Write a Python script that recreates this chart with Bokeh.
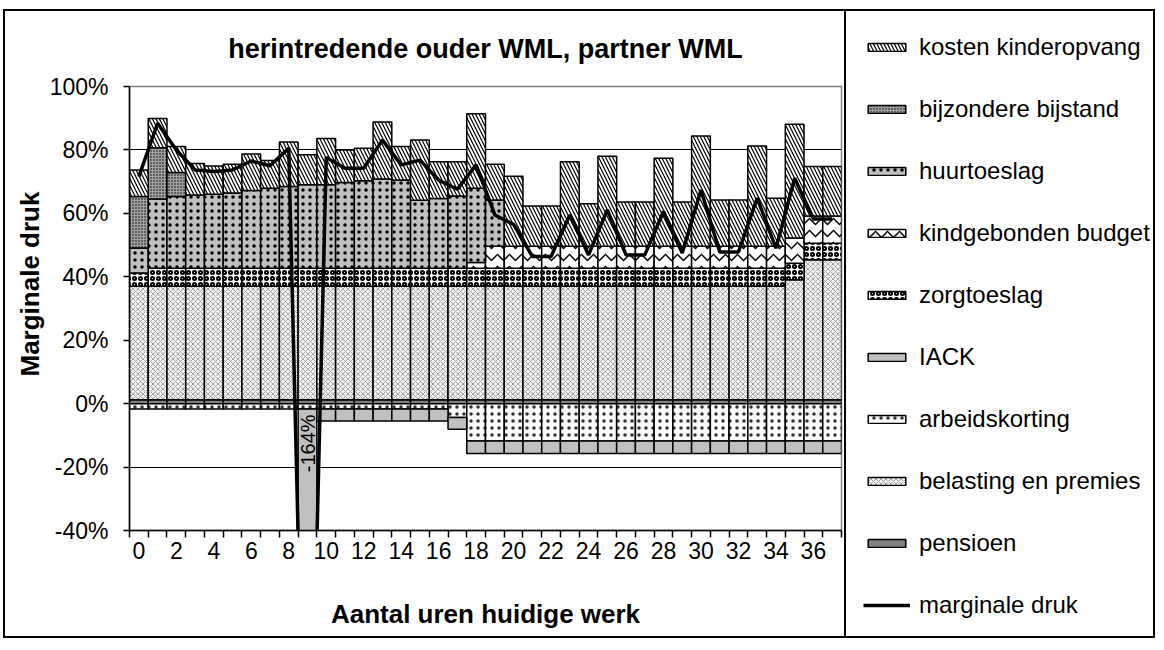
import math
from bokeh.plotting import figure
from bokeh.layouts import row, column
from bokeh.models import (FixedTicker, PrintfTickFormatter, Legend, LegendItem, Label, Title)
from bokeh.embed import file_html
from bokeh.resources import INLINE

FONT = "Liberation Sans"

# ---------------- data ----------------
uren = list(range(38))

pensioen = [1.2, 1.2, 1.2, 1.2, 1.2, 1.2, 1.2, 1.2, 1.2, 1.2,
            1.2, 1.2, 1.2, 1.2, 1.2, 1.2, 1.2, 1.2, 1.2, 1.2,
            1.2, 1.2, 1.2, 1.2, 1.2, 1.2, 1.2, 1.2, 1.2, 1.2,
            1.2, 1.2, 1.2, 1.2, 1.2, 1.2, 1.2, 1.2]
belasting = [35.8, 35.8, 35.8, 35.8, 35.8, 35.8, 35.8, 35.8, 35.8, 35.8,
             35.8, 35.8, 35.8, 35.8, 35.8, 35.8, 35.8, 35.8, 35.8, 35.8,
             35.8, 35.8, 35.8, 35.8, 35.8, 35.8, 35.8, 35.8, 35.8, 35.8,
             35.8, 35.8, 35.8, 35.8, 35.8, 37.9, 44.2, 44.2]
zorgtoeslag = [4.2, 5.7, 5.7, 5.7, 5.7, 5.7, 5.7, 5.7, 5.7, 5.7,
               5.7, 5.7, 5.7, 5.7, 5.7, 5.7, 5.7, 5.7, 5.7, 5.7,
               5.7, 5.7, 5.7, 5.7, 5.7, 5.7, 5.7, 5.7, 5.7, 5.7,
               5.7, 5.7, 5.7, 5.7, 5.7, 5.2, 5.2, 5.2]
kindgebonden = [0, 0, 0, 0, 0, 0, 0, 0, 0, 0,
                0, 0, 0, 0, 0, 0, 0, 0, 1.8, 6.9,
                6.9, 6.9, 6.9, 6.9, 6.9, 6.9, 6.9, 6.9, 6.9, 6.9,
                6.9, 6.9, 6.9, 6.9, 6.9, 7.9, 8.6, 8.6]
huurtoeslag = [7.9, 21.8, 22.6, 23.1, 23.3, 23.7, 24.5, 25.2, 25.8, 26.3,
               26.3, 27.0, 27.6, 28.1, 27.8, 21.4, 22.0, 22.8, 23.4, 14.6,
               0, 0, 0, 0, 0, 0, 0, 0, 0, 0,
               0, 0, 0, 0, 0, 0, 0, 0]
bijzondere = [16.2, 16.2, 7.6, 0, 0, 0, 0, 0, 0, 0,
              0, 0, 0, 0, 0, 0, 0, 0, 0, 0,
              0, 0, 0, 0, 0, 0, 0, 0, 0, 0,
              0, 0, 0, 0, 0, 0, 0, 0]
kinderopvang = [8.4, 9.2, 8.2, 9.9, 8.9, 9.1, 11.5, 8.8, 14.0, 9.5,
                14.6, 10.3, 10.2, 18.0, 10.6, 19.0, 11.6, 10.8, 23.5, 11.3,
                22.1, 12.7, 12.7, 26.7, 13.4, 28.4, 14.0, 14.0, 27.8, 14.0,
                34.8, 14.6, 14.6, 31.6, 15.2, 35.9, 15.6, 15.6]
arbeidskorting = [-1.7, -1.7, -1.7, -1.7, -1.7, -1.7, -1.7, -1.7, -1.7, -1.7,
                  -1.7, -1.7, -1.7, -1.7, -1.7, -1.7, -1.7, -4.4, -11.8, -11.8,
                  -11.8, -11.8, -11.8, -11.8, -11.8, -11.8, -11.8, -11.8, -11.8, -11.8,
                  -11.8, -11.8, -11.8, -11.8, -11.8, -11.8, -11.8, -11.8]
iack = [0, 0, 0, 0, 0, 0, 0, 0, 0, -240.0,
        -3.8, -3.8, -3.8, -3.8, -3.8, -3.8, -3.8, -3.7, -3.9, -3.9,
        -3.9, -3.9, -3.9, -3.9, -3.9, -3.9, -3.9, -3.9, -3.9, -3.9,
        -3.9, -3.9, -3.9, -3.9, -3.9, -3.9, -3.9, -3.9]
marginale = [71.6, 88.4, 80.0, 73.7, 73.2, 73.7, 76.5, 75.0, 80.5, -164.0,
             77.6, 74.2, 74.2, 83.1, 75.3, 76.8, 70.5, 67.6, 75.3, 59.5,
             56.5, 46.4, 46.4, 59.5, 46.9, 61.1, 46.9, 46.9, 60.6, 47.5,
             67.4, 47.8, 47.8, 64.8, 49.0, 71.1, 58.2, 58.2]

y_ticks = [-40, -20, 0, 20, 40, 60, 80, 100]
x_tick_labels = list(range(0, 37, 2))

# ---------------- styles ----------------
styles = {
    "pensioen": dict(fill_color="#808080"),
    "belasting en premies": dict(fill_color="#F2F2F2", hatch_pattern="diagonal_cross",
                                 hatch_color="#A8A8A8", hatch_scale=5, hatch_weight=1),
    "zorgtoeslag": dict(fill_color="white", hatch_pattern="ring", hatch_color="black",
                        hatch_scale=6, hatch_weight=2),
    "kindgebonden budget": dict(fill_color="white", hatch_pattern="horizontal_wave",
                                hatch_color="black", hatch_scale=12, hatch_weight=1.5),
    "huurtoeslag": dict(fill_color="#C0C0C0", hatch_pattern="dot", hatch_color="black",
                        hatch_scale=7, hatch_weight=1),
    "bijzondere bijstand": dict(fill_color="#A0A0A0", hatch_pattern="dot",
                                hatch_color="black", hatch_scale=3, hatch_weight=1.5),
    "kosten kinderopvang": dict(fill_color="white", hatch_pattern="left_diagonal_line",
                                hatch_color="black", hatch_scale=7, hatch_weight=1.2),
    "arbeidskorting": dict(fill_color="#FAFAFA", hatch_pattern="dot", hatch_color="black",
                           hatch_scale=7, hatch_weight=1, hatch_alpha=0.8),
    "IACK": dict(fill_color="#C0C0C0"),
}

pos_series = [("pensioen", pensioen), ("belasting en premies", belasting),
              ("zorgtoeslag", zorgtoeslag), ("kindgebonden budget", kindgebonden),
              ("huurtoeslag", huurtoeslag), ("bijzondere bijstand", bijzondere),
              ("kosten kinderopvang", kinderopvang)]
neg_series = [("arbeidskorting", arbeidskorting), ("IACK", iack)]

# ---------------- chart figure ----------------
p = figure(width=841, height=629, x_range=(-0.5, 37.5), y_range=(-40, 100),
           output_backend="svg", toolbar_location=None,
           min_border_left=124, min_border_right=5, min_border_top=75,
           min_border_bottom=110)
p.background_fill_color = "white"
p.border_fill_color = "white"
p.outline_line_color = "#808080"
p.outline_line_width = 1.5
p.styles = {"border-left": "2px solid black", "border-top": "2px solid black",
            "border-bottom": "2px solid black"}

p.title.text = "herintredende ouder WML, partner WML"
p.title.align = "center"
p.title.vertical_align = "top"
p.title.text_font = FONT
p.title.text_font_size = "27px"
p.title.text_font_style = "bold"
p.title.text_color = "black"
p.title.standoff = 42

bar_data = {}
for series in (pos_series, neg_series):
    base = [0.0] * len(uren)
    for name, vals in series:
        xs, bots, tops = [], [], []
        for i, v in enumerate(vals):
            if v != 0:
                xs.append(uren[i])
                bots.append(base[i])
                tops.append(base[i] + v)
            base[i] += v
        bar_data[name] = (xs, bots, tops)
        p.vbar(x=xs, bottom=bots, top=tops, width=1.0, line_color="black",
               line_width=1.5, **styles[name])

p.line(uren, marginale, line_color="black", line_width=3.5)

lbl = Label(x=uren[9], y=-12.5, text=f"{marginale[9]:.0f}%", angle=math.pi / 2,
            text_align="center", text_baseline="middle", text_font=FONT,
            text_font_size="20px", text_color="black")
p.add_layout(lbl)

p.xaxis.ticker = FixedTicker(ticks=x_tick_labels,
                             minor_ticks=[u - 0.5 for u in uren] + [uren[-1] + 0.5])
p.xaxis.major_tick_out = 0
p.xaxis.major_tick_in = 0
p.xaxis.minor_tick_out = 7
p.xaxis.minor_tick_in = 0
p.xaxis.minor_tick_line_color = "black"
p.xaxis.minor_tick_line_width = 1.5
p.xaxis.major_label_standoff = 4
p.xaxis.axis_label = "Aantal uren huidige werk"
p.xaxis.axis_label_standoff = 37

p.yaxis.ticker = FixedTicker(ticks=y_ticks, minor_ticks=[])
p.yaxis.formatter = PrintfTickFormatter(format="%d%%")
p.yaxis.major_tick_out = 6
p.yaxis.major_tick_in = 0
p.yaxis.major_tick_line_width = 1.5
p.yaxis.major_label_standoff = 15

for ax in (p.xaxis[0], p.yaxis[0]):
    ax.axis_line_color = "black"
    ax.axis_line_width = 1.5
    ax.major_tick_line_color = "black"
    ax.major_label_text_font = FONT
    ax.major_label_text_font_size = "23px"
    ax.major_label_text_color = "black"
    ax.axis_label_text_font = FONT
    ax.axis_label_text_font_size = "26px"
    ax.axis_label_text_font_style = "bold"
    ax.axis_label_text_color = "black"

ytitle = Title(text="Marginale druk", align="left", offset=154, standoff=3,
               text_font=FONT, text_font_size="26px", text_font_style="bold",
               text_color="black")
p.add_layout(ytitle, "left")

p.xgrid.visible = False
p.ygrid.ticker = FixedTicker(ticks=[-20, 0, 20, 40, 60, 80])
p.ygrid.grid_line_color = "black"
p.ygrid.grid_line_width = 1.2

# ---------------- legend panel ----------------
q = figure(width=311, height=629, x_range=(1000, 1001), y_range=(1000, 1001),
           output_backend="svg", toolbar_location=None, min_border=0,
           x_axis_location=None, y_axis_location=None)
q.grid.visible = False
q.outline_line_color = None
q.background_fill_color = "white"
q.border_fill_color = "white"
q.styles = {"border": "2px solid black"}

leg_r = {}
for name, _ in pos_series + neg_series:
    xs, bots, tops = bar_data[name]
    leg_r[name] = q.vbar(x=xs, bottom=bots, top=tops, width=1.0, line_color="black",
                         line_width=1.5, **styles[name])
leg_r["marginale druk"] = q.line(x=uren, y=marginale, line_color="black", line_width=3.5)

order = ["kosten kinderopvang", "bijzondere bijstand", "huurtoeslag",
         "kindgebonden budget", "zorgtoeslag", "IACK", "arbeidskorting",
         "belasting en premies", "pensioen", "marginale druk"]
legend = Legend(items=[LegendItem(label=nm, renderers=[leg_r[nm]]) for nm in order],
                location=(17, 20), orientation="vertical",
                glyph_width=47, glyph_height=10, label_height=31, spacing=31,
                padding=0, margin=0, label_standoff=9,
                label_text_font=FONT, label_text_font_size="24px",
                label_text_color="black",
                border_line_alpha=0, background_fill_alpha=0)
q.add_layout(legend)

layout = row(p, column(q), margin=(9, 0, 0, 3))
open("out.html", "w").write(file_html(layout, INLINE))
